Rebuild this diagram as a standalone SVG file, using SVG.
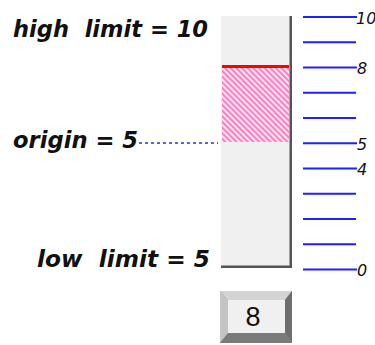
<svg xmlns="http://www.w3.org/2000/svg" width="375" height="345" viewBox="0 0 375 345">
<style>
.lbl{font-family:"DejaVu Sans",sans-serif;font-weight:bold;font-style:oblique;font-size:23px;fill:#111;white-space:pre}
.tl{font-family:"DejaVu Sans",sans-serif;font-style:oblique;font-size:16px;fill:#111}
.tick{stroke:#1f1fff;stroke-width:2}
</style>
<defs>
<pattern id="hatch" patternUnits="userSpaceOnUse" width="6" height="4" patternTransform="rotate(45)">
<rect width="6" height="4" fill="#fff0f7"/>
<rect width="6" height="2.2" fill="#ff7fbf"/>
</pattern>
</defs>
<rect width="375" height="345" fill="#fff"/>
<g id="labels">
<text class="lbl" xml:space="preserve" x="13" y="37" textLength="195" lengthAdjust="spacingAndGlyphs">high  limit = 10</text>
<text class="lbl" x="13" y="148" textLength="125" lengthAdjust="spacingAndGlyphs">origin = 5</text>
<text class="lbl" xml:space="preserve" x="37" y="267" textLength="173" lengthAdjust="spacingAndGlyphs">low  limit = 5</text>
</g>
<g id="gauge">
<rect x="221" y="16" width="71" height="252" fill="#f0f0f0"/>
<rect x="222" y="68" width="67" height="74" fill="url(#hatch)"/>
<line x1="222" y1="66.5" x2="289" y2="66.5" stroke="#ff0000" stroke-width="3"/>
<rect x="289.5" y="16" width="2.5" height="252" fill="#555"/>
<rect x="221" y="265.5" width="71" height="2.5" fill="#555"/>
</g>
<g id="connectors">
<line x1="139" y1="143" x2="218" y2="143" stroke="#2a2aff" stroke-width="1.5" stroke-dasharray="3 3"/>
</g>
<g id="scale">
<line class="tick" x1="303" y1="17" x2="357" y2="17"/>
<line class="tick" x1="303" y1="42.3" x2="356" y2="42.3"/>
<line class="tick" x1="303" y1="67.5" x2="357" y2="67.5"/>
<line class="tick" x1="303" y1="92.8" x2="356" y2="92.8"/>
<line class="tick" x1="303" y1="118" x2="356" y2="118"/>
<line class="tick" x1="303" y1="143.3" x2="357" y2="143.3"/>
<line class="tick" x1="303" y1="168.6" x2="357" y2="168.6"/>
<line class="tick" x1="303" y1="193.8" x2="356" y2="193.8"/>
<line class="tick" x1="303" y1="219.1" x2="356" y2="219.1"/>
<line class="tick" x1="303" y1="244.3" x2="356" y2="244.3"/>
<line class="tick" x1="303" y1="269.6" x2="357" y2="269.6"/>
<text class="tl" x="356" y="24">10</text>
<text class="tl" x="357" y="74">8</text>
<text class="tl" x="357" y="150">5</text>
<text class="tl" x="357" y="175">4</text>
<text class="tl" x="357" y="276">0</text>
</g>
<g id="button">
<rect x="220" y="291" width="72" height="52" fill="#a8a8a8"/>
<polygon points="220,291 292,291 285,300 228,300" fill="#d4d4d4"/>
<polygon points="220,291 228,300 228,333 220,343" fill="#c4c4c4"/>
<polygon points="292,291 292,343 285,333 285,300" fill="#6e6e6e"/>
<polygon points="220,343 292,343 285,333 228,333" fill="#7a7a7a"/>
<rect x="228" y="300" width="57" height="33" fill="#f0f0f0"/>
<text x="253" y="326" text-anchor="middle" font-family="Liberation Sans, Arial, sans-serif" font-size="27" fill="#111">8</text>
</g>
</svg>
